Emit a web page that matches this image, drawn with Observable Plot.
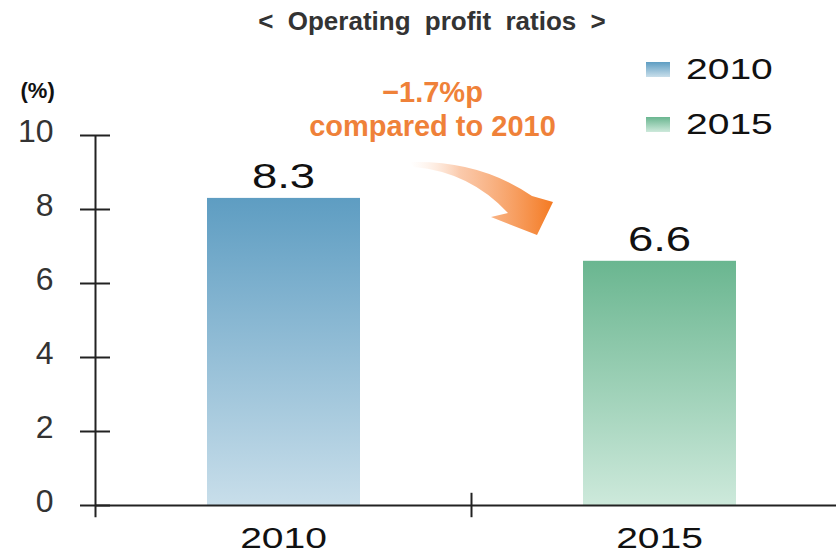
<!DOCTYPE html>
<html>
<head>
<meta charset="utf-8">
<script src="https://cdn.jsdelivr.net/npm/d3@7"></script>
<script src="https://cdn.jsdelivr.net/npm/@observablehq/plot@0.6"></script>
<style>
  body { margin: 0; background: #fff; font-family: "Liberation Sans", Arial, sans-serif; }
  #wrap { position: relative; width: 836px; height: 556px; overflow: hidden; background: #fff; }
  #title { position: absolute; left: 0; top: 8px; width: 836px; padding-left: 28px; box-sizing: border-box;
           text-align: center; font-size: 26px; line-height: 26px; font-weight: bold; color: #333; word-spacing: 7px; }
  #chart { position: absolute; left: 0; top: 45px; }
  .lg { position: absolute; display: flex; align-items: center; font-size: 30px; line-height: 30px; color: #111; }
  .lg span { display: inline-block; transform: scaleX(1.3); transform-origin: left center; }
  .sw { width: 24px; height: 15px; margin-right: 16px; }
</style>
</head>
<body>
<div id="wrap">
  <div id="title">&lt; Operating profit ratios &gt;</div>
  <div id="chart"></div>
  <div id="legend"></div>
</div>
<script>
// ---- data ----
const categories = ["2010", "2015"];
const values = [8.3, 6.6];
const yTicks = [0, 2, 4, 6, 8, 10];
const yUnitLabel = "(%)";
const annotationLines = ["\u22121.7%p", "compared to 2010"];
const legendLabels = ["2010", "2015"];

// ---- styles ----
const gradTop = {"2010": "#5e9dc2", "2015": "#6ab690"};
const gradBottom = {"2010": "#c8deea", "2015": "#cde9db"};
const orange = "#ef8139";
const wideScale = 1.3;

const data = categories.map((c, i) => ({year: c, value: values[i]}));
const W = 836, H = 511;
const bandStart = 95, bandEnd = 847;
const bw = (bandEnd - bandStart) / categories.length;

function defs() {
  const d = d3.create("svg:defs");
  for (const c of categories) {
    const g = d.append("linearGradient").attr("id", "grad" + c)
      .attr("x1", 0).attr("y1", 0).attr("x2", 0).attr("y2", 1);
    g.append("stop").attr("offset", "0%").attr("stop-color", gradTop[c]);
    g.append("stop").attr("offset", "100%").attr("stop-color", gradBottom[c]);
  }
  const a = d.append("linearGradient").attr("id", "gradArrow")
    .attr("x1", 0).attr("y1", 0).attr("x2", 1).attr("y2", 0);
  a.append("stop").attr("offset", "0%").attr("stop-color", "#fde3d0").attr("stop-opacity", 0);
  a.append("stop").attr("offset", "35%").attr("stop-color", "#f9b890").attr("stop-opacity", 0.75);
  a.append("stop").attr("offset", "100%").attr("stop-color", "#f47a22").attr("stop-opacity", 1);
  return d.node();
}

function swoosh(index, scales) {
  const x0 = scales.x(categories[1]);   // boundary between bands
  const y0 = scales.y(10);
  const p = (dx, dy) => `${x0 + dx},${y0 + dy}`;
  const path = `M${p(-61, 27)} Q${p(9, 25)} ${p(61, 61)} L${p(82, 67)} L${p(66, 100)} L${p(20, 82)} L${p(37, 78)} Q${p(-1, 37)} ${p(-57, 32)} Z`;
  const g = d3.create("svg:g");
  g.append("path").attr("d", path).attr("fill", "url(#gradArrow)");
  return g.node();
}

const chart = Plot.plot({
  width: W, height: H,
  marginLeft: 95, marginRight: 0, marginTop: 90, marginBottom: 51,
  style: {fontFamily: "'Liberation Sans', Arial, sans-serif", color: "#111", background: "transparent", overflow: "visible"},
  x: {domain: categories, range: [bandStart, bandEnd], padding: 0},
  y: {domain: [0, 10]},
  color: {type: "identity"},
  marks: [
    defs,
    Plot.barY(data, {x: "year", y: "value", fill: d => `url(#grad${d.year})`, insetLeft: 112, insetRight: 111}),
    Plot.ruleY([0], {stroke: "#222", strokeWidth: 2}),
    Plot.ruleX([categories[0]], {x: d => d, dx: -bw / 2, y1: -0.33, y2: 10, stroke: "#222", strokeWidth: 2}),
    Plot.ruleX(categories.slice(1), {x: d => d, dx: -bw / 2, y1: -0.33, y2: 0.33, stroke: "#222", strokeWidth: 2}),
    Plot.tickY(yTicks, {y: d => d, stroke: "#222", strokeWidth: 2, insetLeft: -15, insetRight: (W - 95) - 15}),
    Plot.axisY({ticks: yTicks, tickSize: 0, tickPadding: 42, fontSize: 32, dy: -4, color: "#333", label: null}),
    Plot.axisX({tickSize: 0, tickPadding: 21, fontSize: 30, color: "#111", label: null}),
    Plot.text(data, {x: "year", y: "value", text: d => d.value.toFixed(1), dy: -10, lineAnchor: "bottom", fontSize: 35, fill: "#111"}),
    Plot.text([yUnitLabel], {frameAnchor: "top-left", dx: -75, dy: -45, textAnchor: "start", lineAnchor: "middle", fontSize: 22, fontWeight: "bold", fill: "#111"}),
    swoosh,
    Plot.text([annotationLines.join("\n")], {frameAnchor: "top", dx: 432 - (95 + 836) / 2, dy: 0, lineAnchor: "bottom", lineHeight: 1.14, fontSize: 29, fontWeight: "bold", fill: orange})
  ]
});
// widen the category and value labels horizontally, as in the original artwork
const wideTexts = new Set([...categories, ...values.map(v => v.toFixed(1))]);
d3.select(chart).selectAll("text").each(function() {
  if (!wideTexts.has(this.textContent)) return;
  const tr = this.getAttribute("transform");
  if (tr) {
    this.setAttribute("transform", tr + ` scale(${wideScale},1)`);
  } else {
    const x = +(this.getAttribute("x") || 0), y = +(this.getAttribute("y") || 0);
    this.setAttribute("x", 0); this.setAttribute("y", 0);
    this.setAttribute("transform", `translate(${x},${y}) scale(${wideScale},1)`);
  }
});
document.getElementById("chart").appendChild(chart);

// legend (HTML)
const legend = document.getElementById("legend");
legendLabels.forEach((lab, i) => {
  const row = document.createElement("div");
  row.className = "lg";
  row.style.left = "646px";
  row.style.top = (54 + i * 55) + "px";
  const sw = document.createElement("div");
  sw.className = "sw";
  sw.style.background = `linear-gradient(${gradTop[lab]}, ${gradBottom[lab]})`;
  row.appendChild(sw);
  const t = document.createElement("span");
  t.textContent = lab;
  row.appendChild(t);
  legend.appendChild(row);
});
</script>
</body>
</html>
